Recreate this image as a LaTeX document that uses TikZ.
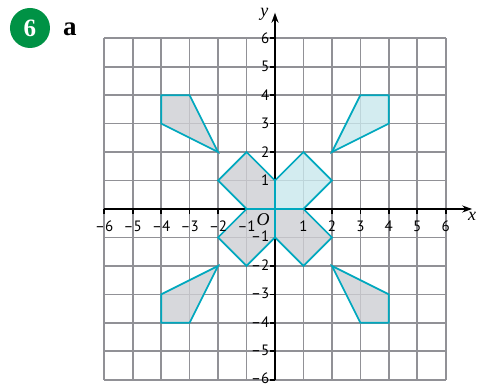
\documentclass[tikz,border=0pt]{standalone}
\usepackage{fontspec}
\usepackage{tikz}
\usetikzlibrary{arrows.meta, positioning}
\newfontfamily\numfont{PT Sans}
\newfontfamily\letterfont{Liberation Serif}
\definecolor{gridgray}{RGB}{145,145,150}
\definecolor{edgecyan}{RGB}{0,168,190}
\definecolor{fillgray}{RGB}{205,206,211}
\definecolor{fillcyan}{RGB}{200,231,236}
\definecolor{badgegreen}{RGB}{0,146,69}

\begin{document}
\begin{tikzpicture}[>={Stealth[length=10pt,width=7pt]}]
    \tikzset{gridline/.style={draw=gridgray, line width=1.7pt},
        axis/.style={line width=2.6pt, black},
        tick/.style={line width=1.6pt, black},
        ticklabel/.style={font=\numfont\fontsize{15}{17}\selectfont, inner sep=0.5pt},
        shapegray/.style={draw=edgecyan, line width=1.7pt, fill=fillgray, fill opacity=0.8, line join=miter},
        shapecyan/.style={draw=edgecyan, line width=1.7pt, fill=fillcyan, fill opacity=0.8, line join=miter}
    }
    \useasboundingbox (-275pt,-178pt) rectangle (202pt,209pt);

    % question number
    \node (Badge) [circle, fill=badgegreen, minimum size=40pt, inner sep=0pt, text=white,
        font=\letterfont\bfseries\fontsize{25}{25}\selectfont] at (-245pt,181pt) {6};
    \node (Part) [font=\letterfont\bfseries\fontsize{27}{27}\selectfont, anchor=base] at (-205pt,173pt) {a};

    % grid
    \foreach \i in {-6,...,6} {
        \draw [gridline] (\i,-6) -- (\i,6);
        \draw [gridline] (-6,\i) -- (6,\i);
    }

    % axes
    \coordinate (XStart) at (-6,0);
    \coordinate (XEnd) at (6.93,0);
    \coordinate (YStart) at (0,-6);
    \coordinate (YEnd) at (0,6.9);
    \draw [axis, ->] (XStart) -- (XEnd);
    \draw [axis, ->] (YStart) -- (YEnd);
    \foreach \i in {1,...,6} {
        \draw [tick] (\i,0) -- (\i,-5pt);
        \draw [tick] (-\i,0) -- (-\i,-5pt);
        \draw [tick] (0,\i) -- (-5pt,\i);
        \draw [tick] (0,-\i) -- (-5pt,-\i);
    }

    % outer shapes
    \draw [shapegray] (-4,4) -- (-3,4) -- (-2,2) -- (-4,3) -- cycle;
    \draw [shapecyan] (3,4) -- (4,4) -- (4,3) -- (2,2) -- cycle;
    \draw [shapegray] (-4,-3) -- (-2,-2) -- (-3,-4) -- (-4,-4) -- cycle;
    \draw [shapegray] (2,-2) -- (4,-3) -- (4,-4) -- (3,-4) -- cycle;

    % centre shapes
    \draw [shapegray] (0,0) -- (0,1) -- (-1,2) -- (-2,1) -- (-1,0) -- cycle;
    \draw [shapegray] (0,0) -- (-1,0) -- (-2,-1) -- (-1,-2) -- (0,-1) -- cycle;
    \draw [shapegray] (0,0) -- (1,0) -- (2,-1) -- (1,-2) -- (0,-1) -- cycle;
    \draw [shapecyan] (0,0) -- (0,1) -- (1,2) -- (2,1) -- (1,0) -- cycle;

    % labels
    \node (XLabel) [font=\letterfont\itshape\fontsize{18}{18}\selectfont, below=0pt of XEnd] {x};
    \node (YLabel) [font=\letterfont\itshape\fontsize{18}{18}\selectfont, left=3pt of YEnd, yshift=-2pt] {y};
    \node (Origin) [font=\letterfont\itshape\fontsize{18}{18}\selectfont] at (-0.42,-0.36) {O};
    \foreach \i in {1,...,6} {
        \node (XP\i) [ticklabel] at (\i,-0.6) {\i};
        \node (XN\i) [ticklabel] at (-\i,-0.6) {–\i};
        \node (YP\i) [ticklabel, anchor=east] at (-5pt,\i) {\i};
        \node (YN\i) [ticklabel, anchor=east] at (-5pt,-\i+0.04) {–\i};
    }
\end{tikzpicture}
\end{document}
